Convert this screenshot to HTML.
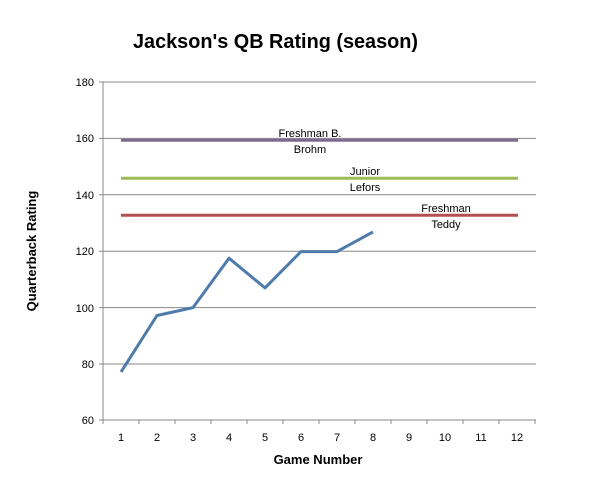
<!DOCTYPE html>
<html><head><style>body{margin:0;background:#fff}</style></head><body>
<svg width="601" height="484" xmlns="http://www.w3.org/2000/svg" font-family="Liberation Sans, sans-serif">
<text x="133" y="48" font-size="20" font-weight="bold" fill="#000" textLength="285" lengthAdjust="spacingAndGlyphs">Jackson's QB Rating (season)</text>
<g stroke="#888" stroke-width="1">
<line x1="103" y1="82" x2="536" y2="82"/>
<line x1="103" y1="138.4" x2="536" y2="138.4"/>
<line x1="103" y1="194.8" x2="536" y2="194.8"/>
<line x1="103" y1="251.2" x2="536" y2="251.2"/>
<line x1="103" y1="307.6" x2="536" y2="307.6"/>
<line x1="103" y1="364" x2="536" y2="364"/>
<line x1="103" y1="420" x2="536" y2="420"/>
<line x1="103" y1="82" x2="103" y2="424"/>
<line x1="99" y1="82" x2="103" y2="82"/><line x1="99" y1="138.4" x2="103" y2="138.4"/><line x1="99" y1="194.8" x2="103" y2="194.8"/><line x1="99" y1="251.2" x2="103" y2="251.2"/><line x1="99" y1="307.6" x2="103" y2="307.6"/><line x1="99" y1="364" x2="103" y2="364"/><line x1="99" y1="420" x2="103" y2="420"/>
<line x1="139" y1="420" x2="139" y2="424"/><line x1="175" y1="420" x2="175" y2="424"/><line x1="211" y1="420" x2="211" y2="424"/><line x1="247" y1="420" x2="247" y2="424"/><line x1="283" y1="420" x2="283" y2="424"/><line x1="319" y1="420" x2="319" y2="424"/><line x1="355" y1="420" x2="355" y2="424"/><line x1="391" y1="420" x2="391" y2="424"/><line x1="427" y1="420" x2="427" y2="424"/><line x1="463" y1="420" x2="463" y2="424"/><line x1="499" y1="420" x2="499" y2="424"/><line x1="535" y1="420" x2="535" y2="424"/>
</g>
<g font-size="11" fill="#000" text-anchor="end">
<text x="94" y="86">180</text><text x="94" y="142">160</text><text x="94" y="199">140</text><text x="94" y="255">120</text><text x="94" y="312">100</text><text x="94" y="368">80</text><text x="94" y="424">60</text>
</g>
<g font-size="11" fill="#000" text-anchor="middle">
<text x="121" y="441">1</text><text x="157" y="441">2</text><text x="193" y="441">3</text><text x="229" y="441">4</text><text x="265" y="441">5</text><text x="301" y="441">6</text><text x="337" y="441">7</text><text x="373" y="441">8</text><text x="409" y="441">9</text><text x="445" y="441">10</text><text x="481" y="441">11</text><text x="517" y="441">12</text>
</g>
<text x="318" y="464" font-size="13" font-weight="bold" text-anchor="middle">Game Number</text>
<text transform="translate(36,251) rotate(-90)" font-size="13" font-weight="bold" text-anchor="middle">Quarterback Rating</text>
<line x1="121" y1="140.3" x2="518" y2="140.3" stroke="#7f6a8f" stroke-width="3"/>
<line x1="121" y1="178.3" x2="518" y2="178.3" stroke="#9bbb59" stroke-width="3"/>
<line x1="121" y1="215.3" x2="518" y2="215.3" stroke="#b05050" stroke-width="3"/>
<polyline fill="none" stroke="#4f7bab" stroke-width="3" stroke-linejoin="round" points="121,372 157,315.5 193,307.6 229,258.2 265,287.9 301,251.6 337,251.6 373,231.9"/>
<g font-size="11" fill="#000" text-anchor="middle">
<text x="310" y="137">Freshman B.</text><text x="310" y="153">Brohm</text>
<text x="365" y="175">Junior</text><text x="365" y="191">Lefors</text>
<text x="446" y="212">Freshman</text><text x="446" y="228">Teddy</text>
</g>
</svg>
</body></html>
